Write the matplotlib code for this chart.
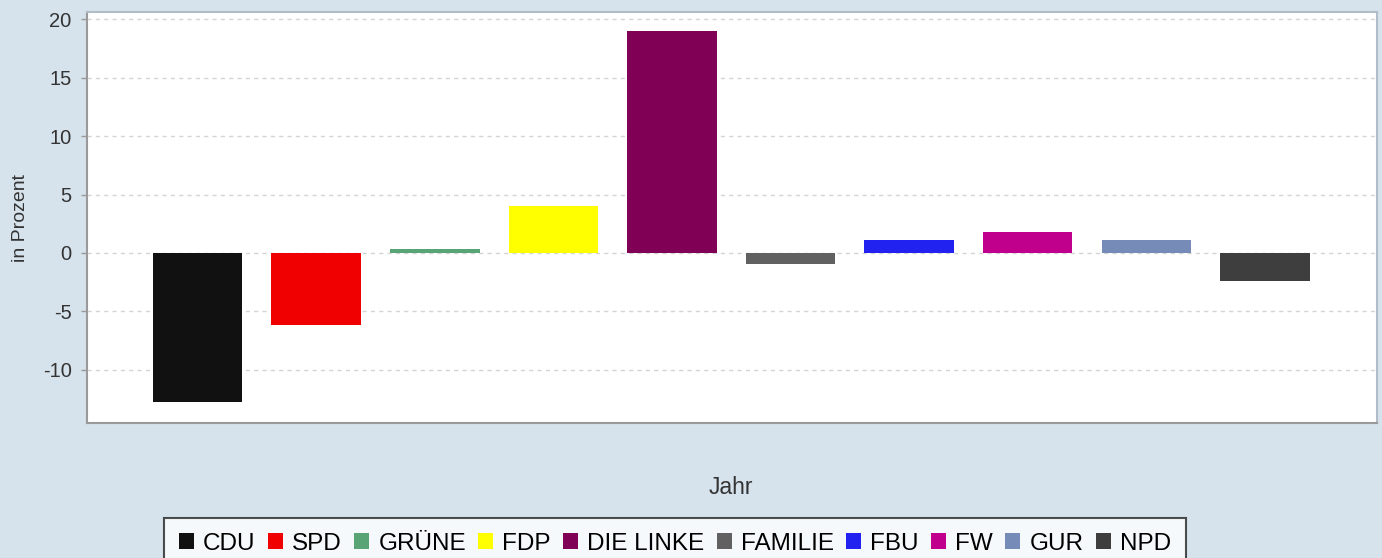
import matplotlib

matplotlib.use("Agg")
import matplotlib.pyplot as plt
from matplotlib.patches import Patch

parties = ["CDU", "SPD", "GRÜNE", "FDP", "DIE LINKE", "FAMILIE", "FBU", "FW", "GUR", "NPD"]
changes = [-12.8, -6.2, 0.3, 4.0, 19.0, -0.9, 1.1, 1.8, 1.1, -2.4]
colors = ["#111111", "#f00000", "#58a474", "#ffff00", "#800055",
          "#616161", "#2222f0", "#c0008c", "#768bb8", "#3e3e3e"]
y_ticks = [-10, -5, 0, 5, 10, 15, 20]

BG = "#d6e2ec"
plt.rcParams["font.family"] = ["Liberation Sans", "DejaVu Sans"]
plt.rcParams["axes.unicode_minus"] = False

fig = plt.figure(figsize=(13.82, 5.58), dpi=100, facecolor=BG)
ax = fig.add_axes([87 / 1382, 1 - 423 / 558, 1290 / 1382, 411 / 558])
ax.set_facecolor("white")

x = list(range(len(parties)))
ax.bar(x, changes, width=0.755, color=colors, zorder=3)

ax.set_xlim(-0.932, 9.945)
ax.set_ylim(-14.56, 20.64)
ax.set_yticks(y_ticks)
ax.set_xticks([])
ax.grid(axis="y", color="#d4d4d4", linestyle=(0, (3, 3)), linewidth=1.0, zorder=0)
ax.tick_params(axis="y", direction="out", length=4, width=1, color="#999999",
               labelsize=14.5, labelcolor="#333333", pad=7)
for side in ["left", "bottom", "top", "right"]:
    ax.spines[side].set_color("#9a9a9a")
    ax.spines[side].set_linewidth(1.5)
ax.spines["top"].set_color("#b0bcc8")
ax.spines["right"].set_color("#b0bcc8")

ax.set_ylabel("in Prozent", fontsize=14, color="#333333", labelpad=10)
fig.text(731 / 1382, 1 - 488 / 558, "Jahr", ha="center", va="center",
         fontsize=16.5, color="#333333")

handles = [Patch(facecolor=c, edgecolor="none") for c in colors]
leg = fig.legend(handles, parties, loc="upper center", ncol=len(parties),
                 bbox_to_anchor=(675 / 1382, 1 - 518 / 558),
                 fontsize=17.5, frameon=True, fancybox=False,
                 handlelength=0.62, handleheight=0.62, handletextpad=0.38,
                 columnspacing=0.5, borderpad=0.6, borderaxespad=0)
leg.get_frame().set_edgecolor("#222222")
leg.get_frame().set_linewidth(1.5)
leg.get_frame().set_facecolor("white")

fig.savefig("out.png", dpi=100, facecolor=BG)
